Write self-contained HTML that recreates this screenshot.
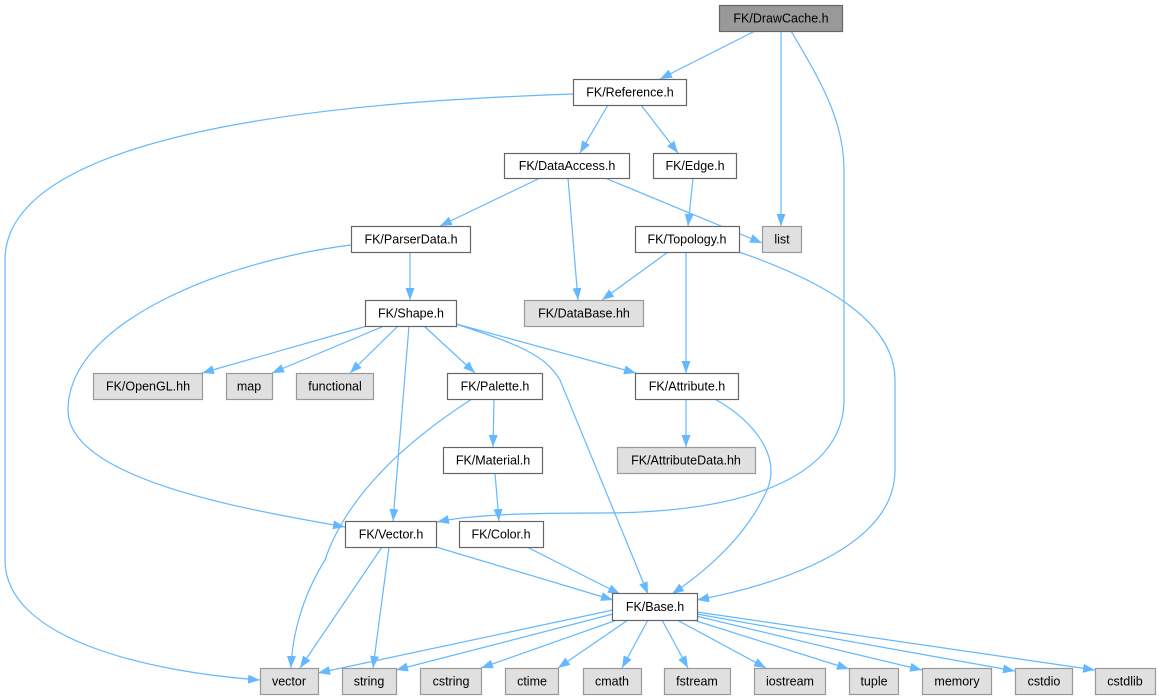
<!DOCTYPE html>
<html><head><meta charset="utf-8"><style>
html,body{margin:0;padding:0;background:#fff;}
svg{display:block;}
text{font-family:"Liberation Sans",Helvetica,Arial,sans-serif;font-size:12.5px;fill:#000;text-anchor:middle;}
.e{fill:none;stroke:#63b8ff;stroke-width:1.2;}
.w{fill:#fff;stroke:#666;stroke-width:1.2;}
.g{fill:#e0e0e0;stroke:#999;stroke-width:1.2;}
</style></head><body>
<svg width="1159" height="699" viewBox="0 0 1159 699" xmlns="http://www.w3.org/2000/svg">
<defs>
<marker id="a" markerUnits="userSpaceOnUse" markerWidth="13" markerHeight="10" refX="12" refY="5" orient="auto">
<path d="M0,0.5 L12,5 L0,9.5 z" fill="#63b8ff"/>
</marker>
</defs>
<g marker-end="url(#a)">
<path class="e" d="M755,31 L660,79"/>
<path class="e" d="M781,31 L781,226"/>
<path class="e" d="M791,31 C820,80 844,120 844,170 L844,400 C844,470 760,513 600,513 C520,513 470,515 437,522"/>
<path class="e" d="M573,94 C400,100 5,120 5,260 L5,560 C5,640 150,672 260,680"/>
<path class="e" d="M608,105 L580,153"/>
<path class="e" d="M641,105 L678,153"/>
<path class="e" d="M540,178 L440,226"/>
<path class="e" d="M568,178 L578,300"/>
<path class="e" d="M605,178 L762,243"/>
<path class="e" d="M693,178 L688,226"/>
<path class="e" d="M668,252 L602,300"/>
<path class="e" d="M686,252 L686,373"/>
<path class="e" d="M739,252 C820,280 895,320 895,380 L895,470 C895,540 800,580 697,600"/>
<path class="e" d="M410,252 L410,300"/>
<path class="e" d="M351,245 C230,260 68,320 68,410 C68,480 250,510 345,527"/>
<path class="e" d="M367,326 L202,373"/>
<path class="e" d="M384,326 L272,373"/>
<path class="e" d="M398,326 L350,373"/>
<path class="e" d="M409,326 L393,521"/>
<path class="e" d="M424,326 L475,373"/>
<path class="e" d="M456,324 L636,373"/>
<path class="e" d="M456,324 C520,345 545,355 560,380 L648,594"/>
<path class="e" d="M472,399 C400,445 345,500 325,560 C300,600 292,640 291,668"/>
<path class="e" d="M494,399 L493,447"/>
<path class="e" d="M495,473 L499,521"/>
<path class="e" d="M382,547 L300,668"/>
<path class="e" d="M389,547 L373,668"/>
<path class="e" d="M436,547 L613,600"/>
<path class="e" d="M527,547 L620,594"/>
<path class="e" d="M715,399 C760,425 780,460 767,490 C745,540 700,575 672,594"/>
<path class="e" d="M686,399 L686,447"/>
<path class="e" d="M613,610 L318,673"/>
<path class="e" d="M613,614 L396,670"/>
<path class="e" d="M617,620 L481,668"/>
<path class="e" d="M628,620 L558,668"/>
<path class="e" d="M648,620 L622,668"/>
<path class="e" d="M662,620 L688,668"/>
<path class="e" d="M677,620 L766,668"/>
<path class="e" d="M690,619 L849,669"/>
<path class="e" d="M696,616 L922,670"/>
<path class="e" d="M697,614 L1015,671"/>
<path class="e" d="M697,612 L1095,670"/>
</g>
<rect x="719.5" y="5.5" width="123" height="26" fill="#999" stroke="#666" stroke-width="1.2"/><text x="781" y="22.5">FK/DrawCache.h</text>
<rect class="w" x="573.5" y="79.5" width="113" height="26"/><text x="630" y="96.5">FK/Reference.h</text>
<rect class="w" x="504.5" y="153.5" width="125" height="25"/><text x="567" y="170">FK/DataAccess.h</text>
<rect class="w" x="653.5" y="153.5" width="83" height="25"/><text x="695" y="170">FK/Edge.h</text>
<rect class="w" x="351.5" y="226.5" width="119" height="26"/><text x="411" y="243.5">FK/ParserData.h</text>
<rect class="w" x="635.5" y="226.5" width="104" height="26"/><text x="687" y="243.5">FK/Topology.h</text>
<rect class="g" x="762.5" y="226.5" width="39" height="26"/><text x="782" y="243.5">list</text>
<rect class="w" x="365.5" y="300.5" width="91" height="26"/><text x="411" y="317.5">FK/Shape.h</text>
<rect class="g" x="524.5" y="300.5" width="119" height="26"/><text x="584" y="317.5">FK/DataBase.hh</text>
<rect class="g" x="93.5" y="373.5" width="109" height="26"/><text x="148" y="390.5">FK/OpenGL.hh</text>
<rect class="g" x="226.5" y="373.5" width="46" height="26"/><text x="249" y="390.5">map</text>
<rect class="g" x="296.5" y="373.5" width="77" height="26"/><text x="335" y="390.5">functional</text>
<rect class="w" x="447.5" y="373.5" width="95" height="26"/><text x="495" y="390.5">FK/Palette.h</text>
<rect class="w" x="635.5" y="373.5" width="103" height="26"/><text x="687" y="390.5">FK/Attribute.h</text>
<rect class="w" x="443.5" y="447.5" width="99" height="26"/><text x="493" y="464.5">FK/Material.h</text>
<rect class="g" x="617.5" y="447.5" width="138" height="26"/><text x="686" y="464.5">FK/AttributeData.hh</text>
<rect class="w" x="345.5" y="521.5" width="91" height="26"/><text x="391" y="538.5">FK/Vector.h</text>
<rect class="w" x="459.5" y="521.5" width="84" height="26"/><text x="501" y="538.5">FK/Color.h</text>
<rect class="w" x="612.5" y="593.5" width="85" height="27"/><text x="655" y="611">FK/Base.h</text>
<rect class="g" x="260.5" y="668.5" width="58" height="26"/><text x="289" y="685.5">vector</text>
<rect class="g" x="342.5" y="668.5" width="54" height="26"/><text x="369" y="685.5">string</text>
<rect class="g" x="420.5" y="668.5" width="61" height="26"/><text x="451" y="685.5">cstring</text>
<rect class="g" x="505.5" y="668.5" width="53" height="26"/><text x="532" y="685.5">ctime</text>
<rect class="g" x="583.5" y="668.5" width="58" height="26"/><text x="612" y="685.5">cmath</text>
<rect class="g" x="664.5" y="668.5" width="66" height="26"/><text x="697" y="685.5">fstream</text>
<rect class="g" x="754.5" y="668.5" width="71" height="26"/><text x="790" y="685.5">iostream</text>
<rect class="g" x="849.5" y="668.5" width="49" height="26"/><text x="874" y="685.5">tuple</text>
<rect class="g" x="922.5" y="668.5" width="69" height="26"/><text x="957" y="685.5">memory</text>
<rect class="g" x="1015.5" y="668.5" width="57" height="26"/><text x="1044" y="685.5">cstdio</text>
<rect class="g" x="1095.5" y="668.5" width="60" height="26"/><text x="1125" y="685.5">cstdlib</text>
</svg>
</body></html>
